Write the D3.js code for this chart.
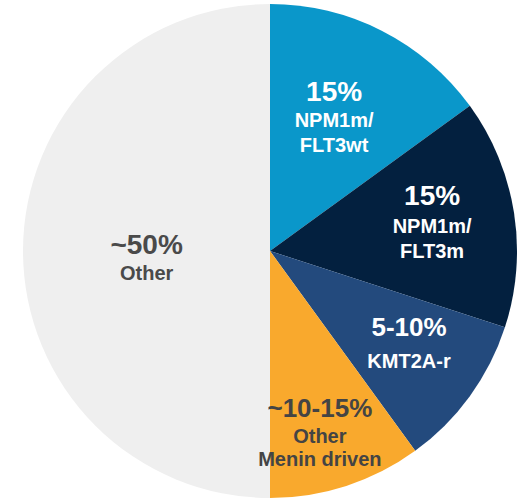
<!DOCTYPE html>
<html><head><meta charset="utf-8">
<script src="https://cdn.jsdelivr.net/npm/d3@7"></script>
<style>html,body{margin:0;padding:0;background:#fff;}svg{display:block;}</style>
</head><body>
<script>
const categories = ["NPM1m/FLT3wt", "NPM1m/FLT3m", "KMT2A-r", "Other Menin driven", "Other"];
const values = [15, 15, 10, 10, 50];
const pctLabels = ["15%", "15%", "5-10%", "~10-15%", "~50%"];
const nameLines = [["NPM1m/", "FLT3wt"], ["NPM1m/", "FLT3m"], ["KMT2A-r"], ["Other", "Menin driven"], ["Other"]];
const colors = ["#0a97ca", "#03203f", "#234a7d", "#f9a92d", "#efefef"];
const textColors = ["#ffffff", "#ffffff", "#ffffff", "#444444", "#4a4a4a"];
// label placement (fraction of radius, angle offset in degrees)
const labelRadius = [0.605, 0.667, 0.675, 0.76, 0.5];
const labelAngleOffset = [-1.6, -1.3, -2.5, 2.6, -2.6];
const pctSize = [28, 28, 26, 26, 28];
const nameSize = 20;
const firstGap = [26, 28, 32, 26, 26];
const nameGap = [25, 25, 25, 23, 25];

const W = 528, H = 500, cx = 270, cy = 251, R = 247;
const svg = d3.select("body").append("svg").attr("width", W).attr("height", H);
const g = svg.append("g").attr("transform", `translate(${cx},${cy})`);

const pie = d3.pie().sort(null).value(d => d)(values);
const arc = d3.arc().innerRadius(0).outerRadius(R);
g.selectAll("path.slice").data(pie).join("path")
  .attr("class", "slice").attr("d", arc).attr("fill", (d, i) => colors[i]);

pie.forEach((d, i) => {
  const mid = (d.startAngle + d.endAngle) / 2 + labelAngleOffset[i] * Math.PI / 180;
  const r = labelRadius[i] * R;
  const x = Math.sin(mid) * r, y = -Math.cos(mid) * r;
  const cap0 = pctSize[i] * 0.72;
  const baselines = [0];
  nameLines[i].forEach((l, j) => baselines.push(baselines[j] + (j === 0 ? firstGap[i] : nameGap[i])));
  const last = baselines[baselines.length - 1];
  const shift = -(last - cap0) / 2;
  const t = g.append("text").attr("text-anchor", "middle")
    .attr("font-family", "Liberation Sans, Arial, sans-serif").attr("font-weight", "bold")
    .attr("fill", textColors[i]);
  t.append("tspan").attr("x", x).attr("y", y + shift + baselines[0])
    .attr("font-size", pctSize[i]).text(pctLabels[i]);
  nameLines[i].forEach((l, j) => {
    t.append("tspan").attr("x", x).attr("y", y + shift + baselines[j + 1])
      .attr("font-size", nameSize).text(l);
  });
});
</script>
</body></html>
